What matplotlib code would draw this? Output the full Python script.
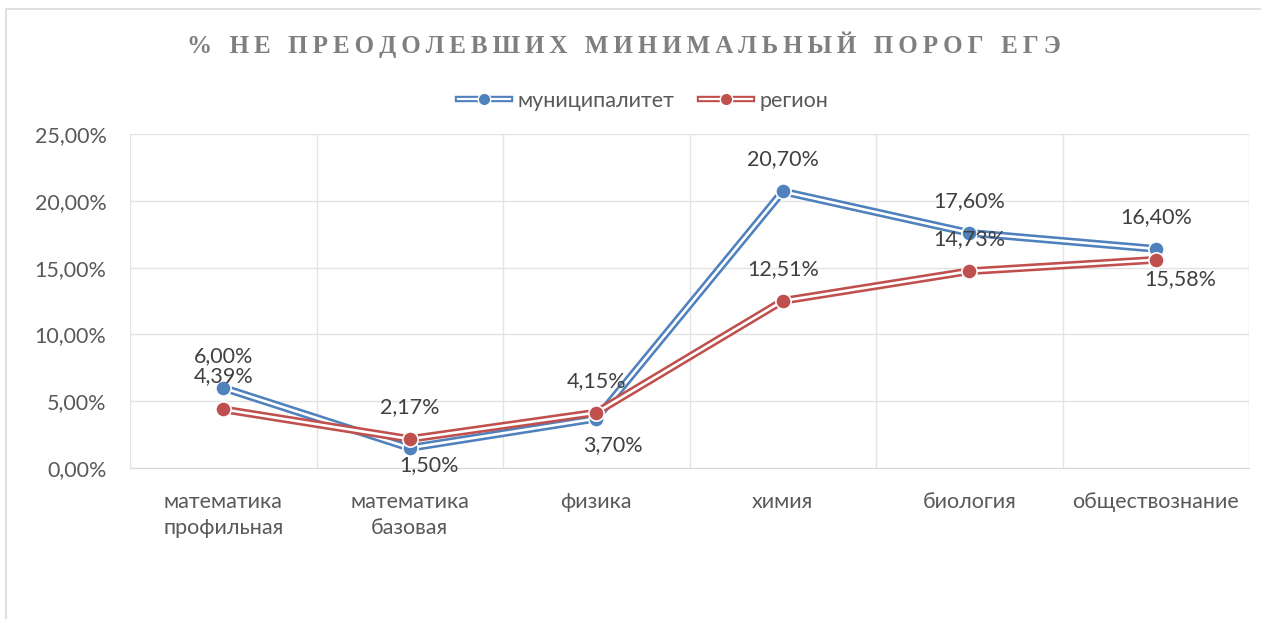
import numpy as np
import matplotlib.pyplot as plt
from matplotlib.lines import Line2D
from matplotlib.legend_handler import HandlerTuple
from matplotlib.patches import Rectangle

# =========================
# DATA
# =========================
categories = ["математика\nпрофильная", "математика\nбазовая", "физика",
              "химия", "биология", "обществознание"]
municipal = [6.00, 1.50, 3.70, 20.70, 17.60, 16.40]
region = [4.39, 2.17, 4.15, 12.51, 14.73, 15.58]
series_names = ["муниципалитет", "регион"]
title = "% НЕ ПРЕОДОЛЕВШИХ МИНИМАЛЬНЫЙ ПОРОГ ЕГЭ"

# label offsets in pixels (dx, dy), dy positive = up
mun_off = [(0, 32), (19, -17), (17, -27), (0, 32), (0, 32), (0, 32)]
reg_off = [(0, 33), (0, 32), (0, 31), (0, 32), (0, 32), (25, -19)]

BLUE = "#4f81bd"
RED = "#c0504d"
TXT = "#595959"
LBL = "#404040"
GRID = "#e3e3e3"
FONT = ["Lato", "DejaVu Sans"]
FS = 15.5

plt.rcParams['font.family'] = FONT

W, H = 1261, 619
fig = plt.figure(figsize=(W / 100, H / 100), dpi=100)

# chart frame
fig.patches.append(Rectangle((6 / W, -0.1), 1.2, 1 - 8.5 / H + 0.1,
                             transform=fig.transFigure, fill=False,
                             edgecolor="#d9d9d9", linewidth=1.2))

ax = fig.add_axes([130 / W, 1 - 468 / H, (1249 - 130) / W, (468 - 134) / H])
x = np.arange(len(categories))

LW_OUT, LW_IN = 5.6, 1.9


def draw_series(vals, color, offs):
    ax.plot(x, vals, color=color, lw=LW_OUT, solid_capstyle="butt", zorder=3)
    ax.plot(x, vals, color="white", lw=LW_IN, solid_capstyle="butt", zorder=3)
    ax.plot(x, vals, ls="none", marker="o", ms=11, mfc=color,
            mec="white", mew=1.2, zorder=3)
    for xi, v, (dx, dy) in zip(x, vals, offs):
        ax.annotate(f"{v:.2f}%".replace(".", ","), (xi, v),
                    xytext=(dx * 0.72, dy * 0.72), textcoords="offset points",
                    ha="center", va="center", fontsize=FS, color=LBL, zorder=5)


draw_series(municipal, BLUE, mun_off)
draw_series(region, RED, reg_off)

ax.set_xlim(-0.5, len(categories) - 0.5)
ax.set_ylim(0, 25)
ax.set_yticks(np.arange(0, 26, 5))
ax.set_yticklabels([f"{v:.2f}%".replace(".", ",") for v in np.arange(0, 26, 5)])
ax.set_xticks(x)
ax.set_xticklabels(categories, linespacing=1.4)
ax.set_xticks(np.arange(-0.5, len(categories), 1), minor=True)
ax.grid(True, which="major", axis="y", color=GRID, lw=1)
ax.grid(True, which="minor", axis="x", color=GRID, lw=1)
ax.tick_params(which="both", length=0)
ax.tick_params(axis="y", pad=17, labelsize=FS, labelcolor=TXT)
ax.tick_params(axis="x", pad=17, labelsize=FS, labelcolor=TXT)
for s in ax.spines.values():
    s.set_visible(False)
ax.spines["bottom"].set_visible(True)
ax.spines["bottom"].set_color("#d9d9d9")
ax.set_axisbelow(True)

# legend: double line with a marker in the middle
def leg_handle(color):
    return (Line2D([], [], color=color, lw=LW_OUT - 1),
            Line2D([], [], color="white", lw=LW_IN - 0.3),
            Line2D([], [], ls="none", marker="o", ms=9, mfc=color, mec="white", mew=1))


handles = [leg_handle(BLUE), leg_handle(RED)]
leg = fig.legend(handles, series_names,
                 handler_map={tuple: HandlerTuple(ndivide=1, pad=0)},
                 loc="center", bbox_to_anchor=(643 / W, 1 - 101 / H), ncol=2,
                 frameon=False, fontsize=FS, handlelength=2.4, handletextpad=0.35,
                 columnspacing=1.2, labelcolor=TXT)

# title with letter spacing
spaced = "\u2002\u2009".join("\u2009".join(w) for w in title.split(" "))
fig.text(624 / W, 1 - 45 / H, spaced, ha="center", va="center", fontsize=18,
         fontweight="bold", color="#7f7f7f",
         family=["Liberation Serif", "DejaVu Serif"])

plt.savefig("out.png", dpi=100)
